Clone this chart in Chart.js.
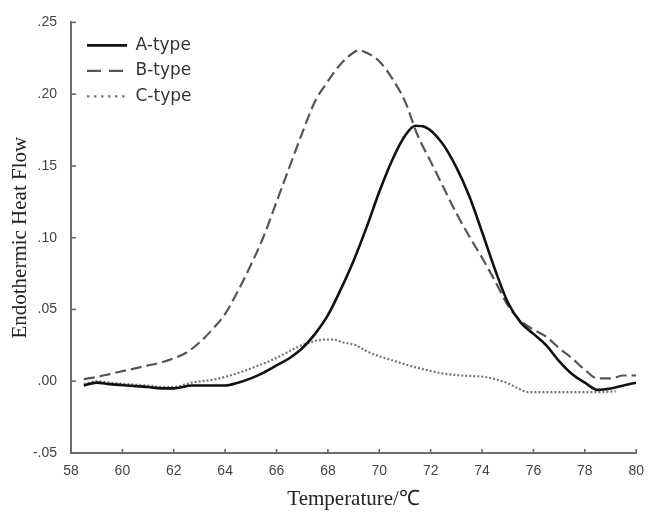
<!DOCTYPE html>
<html><head><meta charset="utf-8">
<script src="https://cdn.jsdelivr.net/npm/chart.js@4.4.1/dist/chart.umd.min.js"></script>
<style>html,body{margin:0;padding:0;background:#fff}#wrap{width:654px;height:512px}</style>
</head><body><div id="wrap"><canvas id="c" width="654" height="512"></canvas></div>
<script>
const seriesNames = ['A-type', 'B-type', 'C-type'];
const xTickLabels = ['58','60','62','64','66','68','70','72','74','76','78','80'];
const yTickLabels = ['-.05','.00','.05','.10','.15','.20','.25'];
const xAxisTitle = 'Temperature/℃';
const yAxisTitle = 'Endothermic Heat Flow';

const aTemp = [58.5,59,59.5,60.2,61,61.5,62,62.7,63.3,64,64.5,65,65.5,66,66.5,67,67.5,68,68.5,69,69.5,70,70.5,71,71.4,71.8,72.4,73,73.5,74,74.5,75,75.5,76,76.5,77,77.5,78,78.5,79,79.5,80];
const aFlow = [-0.003,-0.001,-0.002,-0.003,-0.004,-0.005,-0.005,-0.003,-0.003,-0.003,-0.001,0.002,0.006,0.011,0.016,0.023,0.033,0.046,0.064,0.084,0.107,0.132,0.154,0.171,0.178,0.177,0.167,0.149,0.129,0.104,0.078,0.055,0.041,0.033,0.025,0.014,0.005,-0.001,-0.006,-0.005,-0.003,-0.001];

const bTemp = [58.5,59,59.5,60,60.5,61,61.5,62,62.5,63,63.5,64,64.5,65,65.5,66,66.5,67,67.5,68,68.5,69,69.2,69.6,70,70.5,71,71.5,72,72.5,73,73.5,74,74.5,75,75.5,76,76.5,77,77.5,78,78.5,79,79.5,80];
const bFlow = [0.0015,0.003,0.005,0.007,0.009,0.011,0.013,0.016,0.020,0.027,0.036,0.047,0.063,0.081,0.101,0.125,0.149,0.173,0.195,0.209,0.221,0.229,0.2305,0.228,0.223,0.211,0.195,0.171,0.153,0.135,0.117,0.101,0.086,0.070,0.053,0.042,0.036,0.031,0.023,0.016,0.008,0.002,0.002,0.004,0.004];

const cTemp = [58.5,59,59.5,60.2,61,61.5,62,62.7,63.5,64,64.8,65.3,65.8,66.3,66.8,67.3,67.85,68.2,68.6,69.1,69.5,69.9,70.5,71.15,71.8,72.45,73.2,74.1,74.6,75,75.4,75.8,76.5,77.1,77.8,78.5,79.2];
const cFlow = [-0.002,0,-0.001,-0.002,-0.003,-0.004,-0.004,-0.001,0.001,0.003,0.0076,0.011,0.0146,0.019,0.0236,0.027,0.029,0.029,0.027,0.025,0.021,0.018,0.0146,0.011,0.008,0.0055,0.004,0.003,0.001,-0.0014,-0.005,-0.0076,-0.0076,-0.0076,-0.0076,-0.0076,-0.007];

const zip = (xs, ys) => xs.map((x, i) => ({x: x, y: ys[i]}));
const legendDash = [[], [14, 8], [2.5, 4.5]];

const innerTicks = {
  id: 'innerTicks',
  afterDraw(chart) {
    const {ctx, scales: {x, y}} = chart;
    ctx.save();
    ctx.strokeStyle = '#666';
    ctx.lineWidth = 1.6;
    x.ticks.forEach(t => {
      const px = x.getPixelForValue(t.value);
      ctx.beginPath(); ctx.moveTo(px, x.top); ctx.lineTo(px, x.top - 4); ctx.stroke();
    });
    y.ticks.forEach(t => {
      const py = y.getPixelForValue(t.value);
      ctx.beginPath(); ctx.moveTo(y.right, py); ctx.lineTo(y.right + 5, py); ctx.stroke();
    });
    ctx.restore();
  }
};
const legendShift = {
  id: 'legendShift',
  afterLayout(chart) {
    const l = chart.legend;
    if (l) { l.left = chart.chartArea.left + 7.5; l.top = chart.chartArea.top + 6; }
  }
};

new Chart(document.getElementById('c'), {
  type: 'line',
  data: {
    datasets: [
      {label: seriesNames[0], data: zip(aTemp, aFlow), borderColor: '#111', backgroundColor: '#111', borderWidth: 2.6, pointRadius: 0, cubicInterpolationMode: 'monotone'},
      {label: seriesNames[1], data: zip(bTemp, bFlow), borderColor: '#555', backgroundColor: '#555', borderWidth: 2.2, borderDash: [11, 5], pointRadius: 0, cubicInterpolationMode: 'monotone'},
      {label: seriesNames[2], data: zip(cTemp, cFlow), borderColor: '#777', backgroundColor: '#777', borderWidth: 2.2, borderDash: [2, 2], pointRadius: 0, cubicInterpolationMode: 'monotone'}
    ]
  },
  options: {
    responsive: false,
    animation: false,
    layout: {padding: {left: 0, top: 21, right: 11, bottom: 0}},
    plugins: {
      tooltip: {enabled: false},
      legend: {
        position: 'chartArea',
        align: 'start',
        labels: {
          usePointStyle: true,
          pointStyle: 'line',
          pointStyleWidth: 40,
          padding: 8.5,
          color: '#333',
          font: {family: 'DejaVu Sans', size: 17},
          generateLabels(chart) {
            const items = Chart.defaults.plugins.legend.labels.generateLabels(chart);
            items.forEach((it, i) => { it.lineDash = legendDash[i]; it.pointStyle = 'line'; });
            return items;
          }
        }
      }
    },
    scales: {
      x: {
        type: 'linear', min: 58, max: 80,
        afterFit(s) { s.height = 59; },
        grid: {display: false, drawTicks: false},
        border: {display: true, color: '#6e6e6e', width: 2},
        ticks: {stepSize: 2, padding: 10, color: '#444', font: {family: 'Liberation Sans', size: 14},
          callback: (v, i) => xTickLabels[i]},
        title: {display: true, text: xAxisTitle, color: '#222', padding: {top: 0, bottom: 0},
          font: {family: 'Liberation Serif', size: 21}}
      },
      y: {
        type: 'linear', min: -0.05, max: 0.25,
        afterFit(s) { s.width = 71; },
        grid: {display: false, drawTicks: false},
        border: {display: true, color: '#6e6e6e', width: 2},
        ticks: {stepSize: 0.05, padding: 14, color: '#444', font: {family: 'Liberation Sans', size: 14},
          callback: (v, i) => yTickLabels[i]},
        title: {display: true, text: yAxisTitle, color: '#222', padding: {top: 8, bottom: 0},
          font: {family: 'Liberation Serif', size: 21}}
      }
    }
  },
  plugins: [innerTicks, legendShift]
});
</script></body></html>
